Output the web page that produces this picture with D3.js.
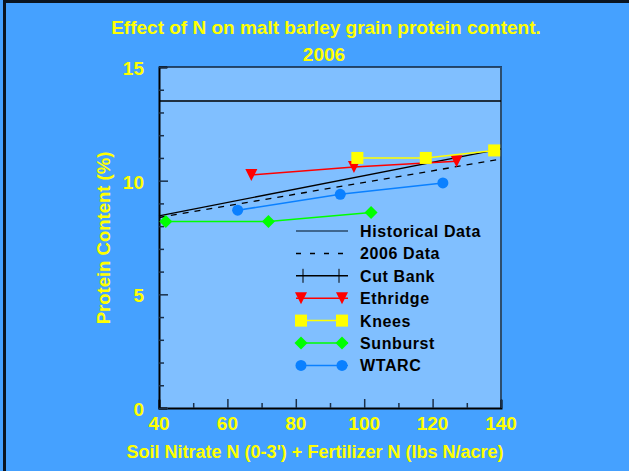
<!DOCTYPE html>
<html>
<head>
<meta charset="utf-8">
<script src="https://cdn.jsdelivr.net/npm/d3@7"></script>
<style>
  body { margin: 0; padding: 0; background: #45a1ff; }
  svg { display: block; }
  text { font-family: Arial, "Liberation Sans", sans-serif; font-weight: bold; }
</style>
</head>
<body>
<svg width="629" height="471"></svg>
<script>
var width = 629;
var height = 471;

// data
var ethridgeX = [67, 97, 127];
var ethridgeY = [10.25, 10.6, 10.85];
var kneesX = [98, 118, 138];
var kneesY = [11.0, 11.0, 11.33];
var sunburstX = [42, 72, 102];
var sunburstY = [8.2, 8.2, 8.6];
var wtarcX = [63, 93, 123];
var wtarcY = [8.7, 9.4, 9.9];
var historicalX = [40, 140];
var historicalY = [8.45, 11.4];
var data2006X = [40, 140];
var data2006Y = [8.38, 10.95];
var limitX = [40, 140];
var limitY = [13.5, 13.5];
var xTicks = [40, 60, 80, 100, 120, 140];
var yTicks = [0, 5, 10, 15];

function zip(xs, ys) {
    return xs.map(function (x, i) { return { x: x, y: ys[i] }; });
}

var svg = d3.select('svg');

// outer border (left + top)
svg.append('rect').attr('x', 0).attr('y', 0).attr('width', width).attr('height', height).attr('fill', '#45a1ff');
svg.append('rect').attr('x', 3).attr('y', 0).attr('width', 3).attr('height', height).attr('fill', '#0a1420');
svg.append('rect').attr('x', 3).attr('y', 0).attr('width', width).attr('height', 3).attr('fill', '#0a1420');

var x = d3.scaleLinear().domain([40, 140]).range([159, 501]);
var y = d3.scaleLinear().domain([0, 15]).range([408, 67]);

// plot background
svg.append('rect')
    .attr('x', x(40)).attr('y', y(15))
    .attr('width', x(140) - x(40)).attr('height', y(0) - y(15))
    .attr('fill', '#80bfff');

// frame top/right
svg.append('line').attr('x1', x(40)).attr('x2', x(140) + 1).attr('y1', y(15)).attr('y2', y(15))
    .attr('stroke', '#10233a').attr('stroke-width', 1.5);
svg.append('line').attr('x1', x(140)).attr('x2', x(140)).attr('y1', y(15)).attr('y2', y(0))
    .attr('stroke', '#2c4e70').attr('stroke-width', 2);

// axes with inward ticks
var xAxis = svg.append('g').attr('transform', 'translate(0,' + y(0) + ')')
    .call(d3.axisBottom(x).tickValues(d3.range(40, 141, 10)).tickSize(-8).tickFormat(''));
xAxis.selectAll('.tick line').attr('y2', function (d) { return d % 20 === 0 ? -9 : -5; });
var yAxis = svg.append('g').attr('transform', 'translate(' + x(40) + ',0)')
    .call(d3.axisLeft(y).tickValues(d3.range(0, 16, 1)).tickSize(-8).tickFormat(''));
yAxis.selectAll('.tick line').attr('x2', function (d) { return d % 5 === 0 ? 9 : 5; });
svg.selectAll('.domain').attr('stroke', '#000').attr('stroke-width', 2);
svg.selectAll('.tick line').attr('stroke', '#1a2f48').attr('stroke-width', 1.5);

// tick labels
svg.append('g').selectAll('text').data(xTicks).enter().append('text')
    .attr('x', function (d) { return x(d); })
    .attr('y', 430)
    .attr('text-anchor', 'middle')
    .attr('font-size', '19px').attr('fill', '#ffff00')
    .text(function (d) { return d; });
svg.append('g').selectAll('text').data(yTicks).enter().append('text')
    .attr('x', 144)
    .attr('y', function (d) { return y(d) + 8; })
    .attr('text-anchor', 'end')
    .attr('font-size', '19px').attr('fill', '#ffff00')
    .text(function (d) { return d; });

// titles
svg.append('text').attr('x', 326).attr('y', 34).attr('text-anchor', 'middle')
    .attr('font-size', '19px').attr('fill', '#ffff00')
    .text('Effect of N on malt barley grain protein content.');
svg.append('text').attr('x', 324).attr('y', 61).attr('text-anchor', 'middle')
    .attr('font-size', '19px').attr('fill', '#ffff00')
    .text('2006');
svg.append('text').attr('x', 315).attr('y', 458).attr('text-anchor', 'middle')
    .attr('font-size', '18px').attr('fill', '#ffff00')
    .text("Soil Nitrate N (0-3') + Fertilizer N (lbs N/acre)");
svg.append('text').attr('transform', 'translate(110,238) rotate(-90)').attr('text-anchor', 'middle')
    .attr('font-size', '18.5px').attr('fill', '#ffff00')
    .text('Protein Content (%)');

var line = d3.line().x(function (d) { return x(d.x); }).y(function (d) { return y(d.y); });

// reference line, historical, 2006
svg.append('path').datum(zip(limitX, limitY)).attr('d', line)
    .attr('stroke', '#000').attr('stroke-width', 1.5).attr('fill', 'none');
svg.append('path').datum(zip(historicalX, historicalY)).attr('d', line)
    .attr('stroke', '#000').attr('stroke-width', 1.4).attr('fill', 'none');
svg.append('path').datum(zip(data2006X, data2006Y)).attr('d', line)
    .attr('stroke', '#000').attr('stroke-width', 1.3).attr('stroke-dasharray', '6,6').attr('fill', 'none');

var series = [
    { name: 'Ethridge', xs: ethridgeX, ys: ethridgeY, color: '#ff0000', shape: 'tri' },
    { name: 'Knees', xs: kneesX, ys: kneesY, color: '#ffff00', shape: 'square' },
    { name: 'Sunburst', xs: sunburstX, ys: sunburstY, color: '#00ff00', shape: 'diamond' },
    { name: 'WTARC', xs: wtarcX, ys: wtarcY, color: '#0a80ff', shape: 'circle' }
];

function marker(g, shape, color) {
    if (shape === 'tri') {
        g.append('path').attr('d', 'M-6,-6 L6,-6 L0,6 Z').attr('fill', color);
    } else if (shape === 'square') {
        g.append('rect').attr('x', -6).attr('y', -6).attr('width', 12).attr('height', 12).attr('fill', color);
    } else if (shape === 'diamond') {
        g.append('path').attr('d', 'M0,-6.5 L6.5,0 L0,6.5 L-6.5,0 Z').attr('fill', color);
    } else if (shape === 'circle') {
        g.append('circle').attr('r', 5.5).attr('fill', color);
    } else if (shape === 'tick') {
        g.append('line').attr('y1', -7).attr('y2', 7).attr('stroke', '#000').attr('stroke-width', 1);
    }
}

series.forEach(function (s) {
    var pts = zip(s.xs, s.ys);
    svg.append('path').datum(pts).attr('d', line)
        .attr('stroke', s.color).attr('stroke-width', 1.5).attr('fill', 'none');
    svg.append('g').selectAll('g').data(pts).enter().append('g')
        .attr('transform', function (d) { return 'translate(' + x(d.x) + ',' + y(d.y) + ')'; })
        .each(function () { marker(d3.select(this), s.shape, s.color); });
});

// legend
var legendItems = [
    { name: 'Historical Data', color: '#2a4868', dash: null, shape: null },
    { name: '2006 Data', color: '#000', dash: '5,9', shape: null },
    { name: 'Cut Bank', color: '#000', dash: null, shape: 'tick' },
    { name: 'Ethridge', color: '#ff0000', dash: null, shape: 'tri' },
    { name: 'Knees', color: '#ffff00', dash: null, shape: 'square' },
    { name: 'Sunburst', color: '#00ff00', dash: null, shape: 'diamond' },
    { name: 'WTARC', color: '#0a80ff', dash: null, shape: 'circle' }
];
var legend = svg.append('g').selectAll('g').data(legendItems).enter().append('g')
    .attr('transform', function (d, i) { return 'translate(0,' + (231 + i * 22.4) + ')'; });
legend.append('line').attr('x1', 296).attr('x2', 348).attr('y1', 0).attr('y2', 0)
    .attr('stroke', function (d) { return d.color; })
    .attr('stroke-width', 1.5)
    .attr('stroke-dasharray', function (d) { return d.dash; });
legend.each(function (d) {
    if (!d.shape) return;
    var g = d3.select(this);
    var x0 = d.shape === 'tick' ? 303 : 301;
    var x1 = d.shape === 'tick' ? 339 : 342;
    marker(g.append('g').attr('transform', 'translate(' + x0 + ',0)'), d.shape, d.color);
    marker(g.append('g').attr('transform', 'translate(' + x1 + ',0)'), d.shape, d.color);
});
legend.append('text').attr('x', 360).attr('y', 6)
    .attr('font-size', '16px').attr('letter-spacing', '0.6px').attr('fill', '#000')
    .text(function (d) { return d.name; });
</script>
</body>
</html>
